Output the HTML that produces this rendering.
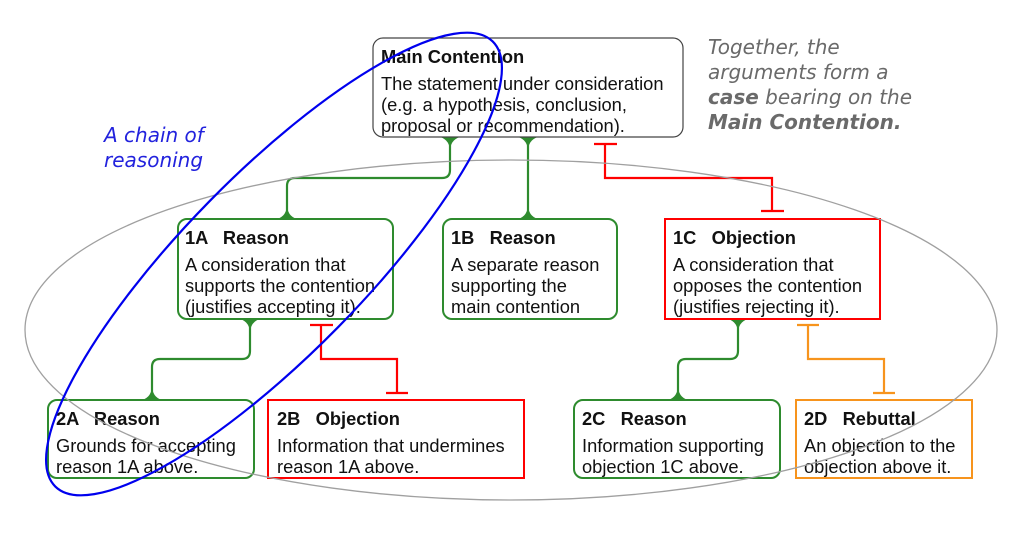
<!DOCTYPE html>
<html><head><meta charset="utf-8"><style>
html,body{margin:0;background:#fff;width:1021px;height:533px;overflow:hidden}
svg{display:block}
text{font-family:"Liberation Sans",sans-serif;fill:#111;}
.t{font-size:18.3px;font-weight:bold}
.b{font-size:18.3px}
.h{font-family:"DejaVu Sans",sans-serif;font-style:oblique;font-size:20px;fill:#6a6a6a}
</style></head><body>
<svg width="1021" height="533" viewBox="0 0 1021 533" xmlns="http://www.w3.org/2000/svg">
<g fill="none" stroke="#2e8b2e" stroke-width="2.2">
<path d="M450 137 V170 Q450 178 442 178 H295 Q287 178 287 186 V219"/>
<path d="M528 137 V219"/>
<path d="M250 319 V351 Q250 359 242 359 H160 Q152 359 152 367 V400"/>
<path d="M738 319 V351 Q738 359 730 359 H686 Q678 359 678 367 V400"/>
</g>
<g fill="#2e8b2e">
<path d="M440 137 Q450 140 450 152 Q450 140 460 137Z"/>
<path d="M518 137 Q528 140 528 152 Q528 140 538 137Z"/>
<path d="M277 219 Q287 216 287 204 Q287 216 297 219Z"/>
<path d="M518 219 Q528 216 528 204 Q528 216 538 219Z"/>
<path d="M240 319 Q250 322 250 334 Q250 322 260 319Z"/>
<path d="M142 400 Q152 397 152 385 Q152 397 162 400Z"/>
<path d="M728 319 Q738 322 738 334 Q738 322 748 319Z"/>
<path d="M668 400 Q678 397 678 385 Q678 397 688 400Z"/>
</g>
<g fill="none" stroke="#f00" stroke-width="2.2">
<path d="M594 144 H617 M605 144 V178 H772 V211 M761 211 H784"/>
<path d="M310 325 H333 M321 325 V359 H397 V393 M386 393 H408"/>
</g>
<g fill="none" stroke="#f7941d" stroke-width="2.2">
<path d="M797 325 H819 M808 325 V359 H884 V393 M873 393 H895"/>
</g>
<rect x="373" y="38" width="310" height="99" rx="10" fill="#fff" stroke="#444" stroke-width="1.2"/>
<rect x="178" y="219" width="215" height="100" rx="9" fill="#fff" stroke="#2e8b2e" stroke-width="2"/>
<rect x="443" y="219" width="174" height="100" rx="9" fill="#fff" stroke="#2e8b2e" stroke-width="2"/>
<rect x="665" y="219" width="215" height="100" fill="#fff" stroke="#f00" stroke-width="2"/>
<rect x="48" y="400" width="206" height="78" rx="9" fill="#fff" stroke="#2e8b2e" stroke-width="2"/>
<rect x="268" y="400" width="256" height="78" fill="#fff" stroke="#f00" stroke-width="2"/>
<rect x="574" y="400" width="206" height="78" rx="9" fill="#fff" stroke="#2e8b2e" stroke-width="2"/>
<rect x="796" y="400" width="176" height="78" fill="#fff" stroke="#f7941d" stroke-width="2"/>
<text class="t" x="381" y="63">Main Contention</text>
<text class="b" x="381" y="90">The statement under consideration</text>
<text class="b" x="381" y="111">(e.g. a hypothesis, conclusion,</text>
<text class="b" x="381" y="132">proposal or recommendation).</text>
<text class="t" x="185" y="244" xml:space="preserve">1A   Reason</text>
<text class="b" x="185" y="271">A consideration that</text>
<text class="b" x="185" y="292">supports the contention</text>
<text class="b" x="185" y="313">(justifies accepting it).</text>
<text class="t" x="451" y="244" xml:space="preserve">1B   Reason</text>
<text class="b" x="451" y="271">A separate reason</text>
<text class="b" x="451" y="292">supporting the</text>
<text class="b" x="451" y="313">main contention</text>
<text class="t" x="673" y="244" xml:space="preserve">1C   Objection</text>
<text class="b" x="673" y="271">A consideration that</text>
<text class="b" x="673" y="292">opposes the contention</text>
<text class="b" x="673" y="313">(justifies rejecting it).</text>
<text class="t" x="56" y="425" xml:space="preserve">2A   Reason</text>
<text class="b" x="56" y="452">Grounds for accepting</text>
<text class="b" x="56" y="473">reason 1A above.</text>
<text class="t" x="277" y="425" xml:space="preserve">2B   Objection</text>
<text class="b" x="277" y="452">Information that undermines</text>
<text class="b" x="277" y="473">reason 1A above.</text>
<text class="t" x="582" y="425" xml:space="preserve">2C   Reason</text>
<text class="b" x="582" y="452">Information supporting</text>
<text class="b" x="582" y="473">objection 1C above.</text>
<text class="t" x="804" y="425" xml:space="preserve">2D   Rebuttal</text>
<text class="b" x="804" y="452">An objection to the</text>
<text class="b" x="804" y="473">objection above it.</text>
<ellipse cx="511" cy="330" rx="486" ry="170" fill="none" stroke="#a0a0a0" stroke-width="1.3"/>
<ellipse cx="274" cy="264" rx="312" ry="90" transform="rotate(-45.5 274 264)" fill="none" stroke="#0000ee" stroke-width="2.2"/>
<text class="h" x="104" y="142" style="fill:#2222dd">A chain of</text>
<text class="h" x="104" y="167" style="fill:#2222dd">reasoning</text>
<text class="h" x="708" y="54">Together, the</text>
<text class="h" x="708" y="79">arguments form a</text>
<text class="h" x="708" y="104"><tspan font-weight="bold">case</tspan> bearing on the</text>
<text class="h" x="708" y="129" font-weight="bold">Main Contention.</text>
</svg>
</body></html>
